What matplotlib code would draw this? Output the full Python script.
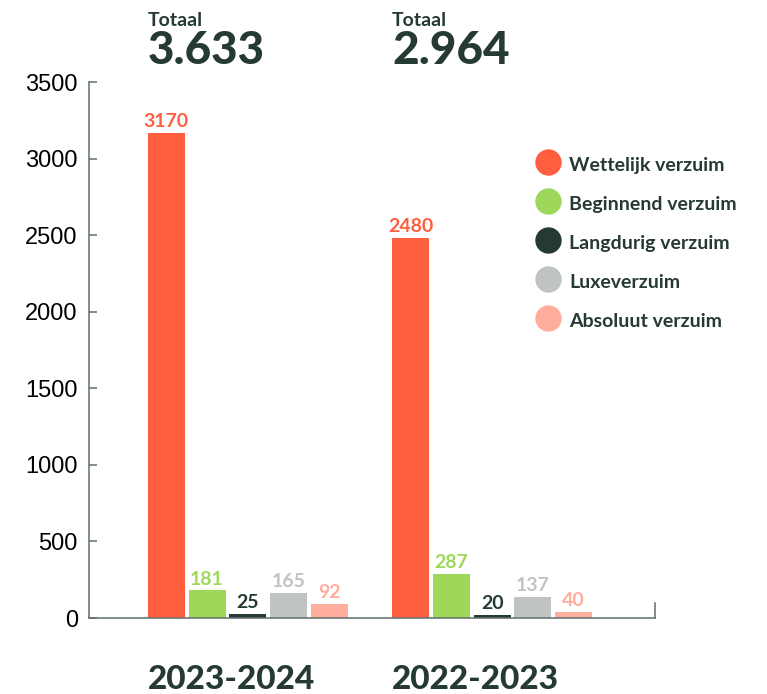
import matplotlib.pyplot as plt
from matplotlib.lines import Line2D

# data
jaren = ['2023-2024', '2022-2023']
categorieen = ['Wettelijk verzuim', 'Beginnend verzuim', 'Langdurig verzuim',
               'Luxeverzuim', 'Absoluut verzuim']
waarden_2324 = [3170, 181, 25, 165, 92]
waarden_2223 = [2480, 287, 20, 137, 40]
totalen = ['3.633', '2.964']
kleuren = ['#FF5F3F', '#9ED85A', '#263A35', '#BFC3C2', '#FFAE9E']
donker = '#263A35'
as_kleur = '#5F6F6C'

plt.rcParams['font.family'] = ['Lato', 'DejaVu Sans']

fig = plt.figure(figsize=(7.67, 6.94), dpi=100)
ax = fig.add_axes([0.116, 0.1095, 0.738, 0.7723])

breedte = 0.91
groep_start = [0, 6]
for g, waarden in enumerate([waarden_2324, waarden_2223]):
    for i, v in enumerate(waarden):
        x = groep_start[g] + i
        ax.bar(x, v, width=breedte, color=kleuren[i], zorder=2)
        ax.annotate(str(v), (x, v), xytext=(0, 2), textcoords='offset points',
                    ha='center', va='bottom', fontsize=14, fontweight='bold',
                    color=kleuren[i])
    links = groep_start[g] - breedte / 2
    ax.text(links, 3905, 'Totaal', ha='left', va='center', fontsize=14,
            fontweight='bold', color=donker, clip_on=False)
    ax.text(links, 3705, totalen[g], ha='left', va='center', fontsize=33,
            fontweight='black', color=donker, clip_on=False)
    ax.text(links, -400, jaren[g], ha='left', va='center', fontsize=24,
            fontweight='black', color=donker, clip_on=False)

ax.set_xlim(-1.9, 12.0)
ax.set_ylim(0, 3500)
ax.set_yticks(range(0, 3501, 500))
ax.set_xticks([])
for lbl in ax.get_yticklabels():
    lbl.set_family('Liberation Sans')
ax.tick_params(axis='y', direction='in', length=6, width=1.1, color=as_kleur,
               labelsize=17, labelcolor='black', pad=8)

ax.spines['top'].set_visible(False)
ax.spines['right'].set_bounds(0, 95)
for s in ['left', 'bottom', 'right']:
    ax.spines[s].set_color(as_kleur)
    ax.spines[s].set_linewidth(1.1)

handles = [Line2D([], [], marker='o', linestyle='none', markersize=19,
                  markerfacecolor=c, markeredgecolor='none') for c in kleuren]
leg = ax.legend(handles, categorieen, loc='upper left',
                bbox_to_anchor=(534 / 767, 1 - 153 / 694),
                bbox_transform=fig.transFigure, frameon=False, borderpad=0,
                borderaxespad=0, fontsize=14, handlelength=1.4,
                handleheight=1.4, labelspacing=0.85, handletextpad=0.4)
for t in leg.get_texts():
    t.set_color(donker)
    t.set_fontweight('bold')

fig.savefig('out.png', dpi=100)
